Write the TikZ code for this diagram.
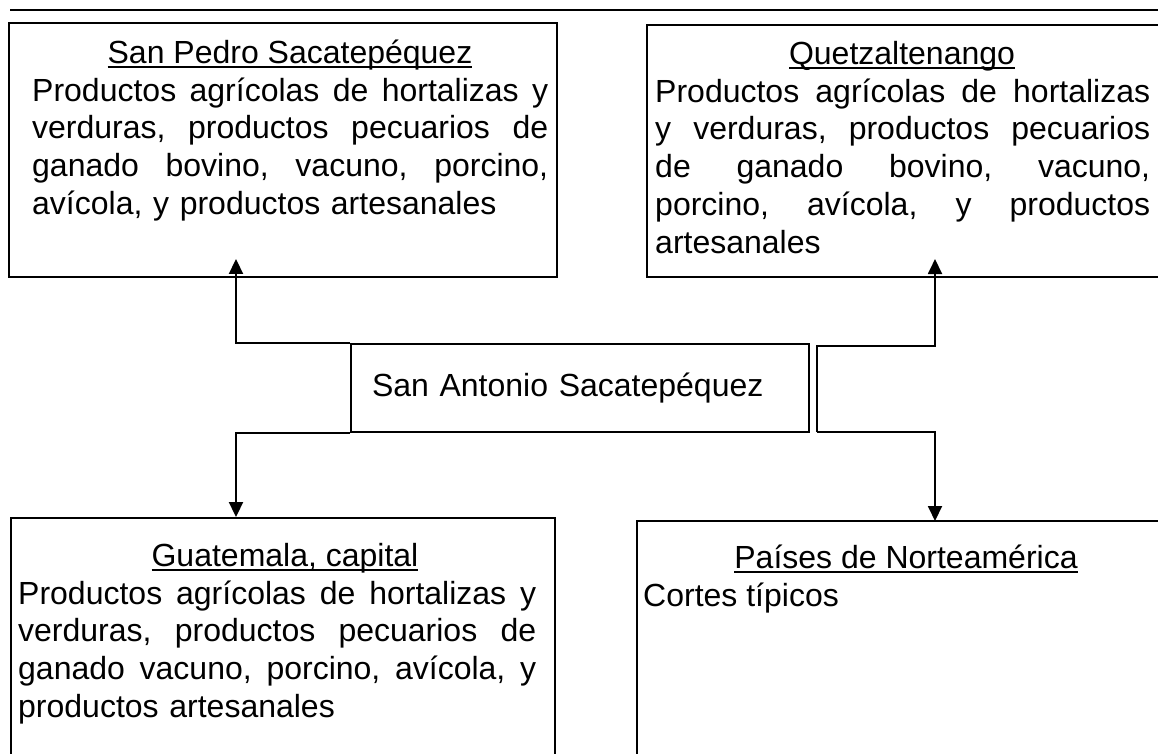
\documentclass[tikz,border=0pt]{standalone}
\usepackage{fontspec}
\setmainfont{Liberation Sans}
\usetikzlibrary{arrows.meta, positioning, calc}

\newlength{\ancho}
\newcommand{\letra}{\fontsize{32}{37.75}\selectfont}
\newcommand{\subr}[1]{\setbox0\hbox{#1}\rlap{\rule[-4.5pt]{\wd0}{1.8pt}}\box0}
% justified line: every space gets a fill
\def\llenar#1 #2\fin{#1\ifx\relax#2\relax\else\space\hfill\llenar#2\fin\fi}
\newcommand{\linea}[1]{\noindent\hbox to\ancho{\llenar#1 \fin}\par}
\newcommand{\ultima}[1]{\noindent\hbox to\ancho{#1\hfil}\par}

\tikzset{
  caja/.style={draw, line width=1.9pt, rectangle, inner sep=0pt},
  texto/.style={font=\letra, inner sep=0pt},
  flecha/.style={line width=1.9pt, -{Triangle[length=15pt,width=14pt]}},
}

\begin{document}
\begin{tikzpicture}[x=1pt, y=-1pt]
\useasboundingbox (0,0) rectangle (1158,753);
\clip (0,0) rectangle (1158,753);

% top rule
\draw[line width=1.9pt] (10,10) -- (1158,10);

% destination boxes
\node[caja, minimum width=548pt, minimum height=254pt] (sp) at (283,150) {};
\node[caja, minimum width=553pt, minimum height=252pt] (qz) at (923.5,151) {};
\node[caja, minimum width=544pt, minimum height=252pt] (gu) at (283,644) {};
\node[caja, minimum width=533pt, minimum height=249pt] (pa) at (903.5,645.5) {};

% origin
\node[caja, texto, minimum width=458pt, minimum height=88pt, text width=416pt,
      inner xsep=21pt, align=left] (sa) at (580,388) {San Antonio Sacatepéquez};

% San Pedro
\node[texto, anchor=base] (sptit) at (290,63) {\subr{San Pedro Sacatepéquez}};
\node[texto, anchor=base west, text width=516pt] (spcuerpo) at (32,101) {%
  \setlength{\ancho}{516pt}%
  \linea{Productos agrícolas de hortalizas y}
  \linea{verduras, productos pecuarios de}
  \linea{ganado bovino, vacuno, porcino,}
  \ultima{avícola, y productos artesanales}};

% Quetzaltenango
\node[texto, anchor=base] (qztit) at (902,64) {\subr{Quetzaltenango}};
\node[texto, anchor=base west, text width=495pt] (qzcuerpo) at (655,102) {%
  \setlength{\ancho}{495pt}%
  \linea{Productos agrícolas de hortalizas}
  \linea{y verduras, productos pecuarios}
  \linea{de ganado bovino, vacuno,}
  \linea{porcino, avícola, y productos}
  \ultima{artesanales}};

% Guatemala
\node[texto, anchor=base] (gutit) at (285,566) {\subr{Guatemala, capital}};
\node[texto, anchor=base west, text width=518pt] (gucuerpo) at (18,604) {%
  \setlength{\ancho}{518pt}%
  \linea{Productos agrícolas de hortalizas y}
  \linea{verduras, productos pecuarios de}
  \linea{ganado vacuno, porcino, avícola, y}
  \ultima{productos artesanales}};

% Norteamerica
\node[texto, anchor=base] (patit) at (906,568) {\subr{Países de Norteamérica}};
\node[texto, anchor=base west] (pacuerpo) at (643,606) {Cortes típicos};

% connectors
\coordinate (rt) at (817,346);
\coordinate (rb) at (817,432);
\coordinate (qzf) at (935,259);
\coordinate (paf) at (935,521);
\draw[flecha] (sa.north west) -| ([xshift=-47pt, yshift=19pt]sp.south);
\draw[flecha] (sa.south west) -| ([xshift=-47pt]gu.north);
\draw[flecha] (rb) -- (rt) -| (qzf);
\draw[flecha] (rb) -| (paf);
\end{tikzpicture}
\end{document}
